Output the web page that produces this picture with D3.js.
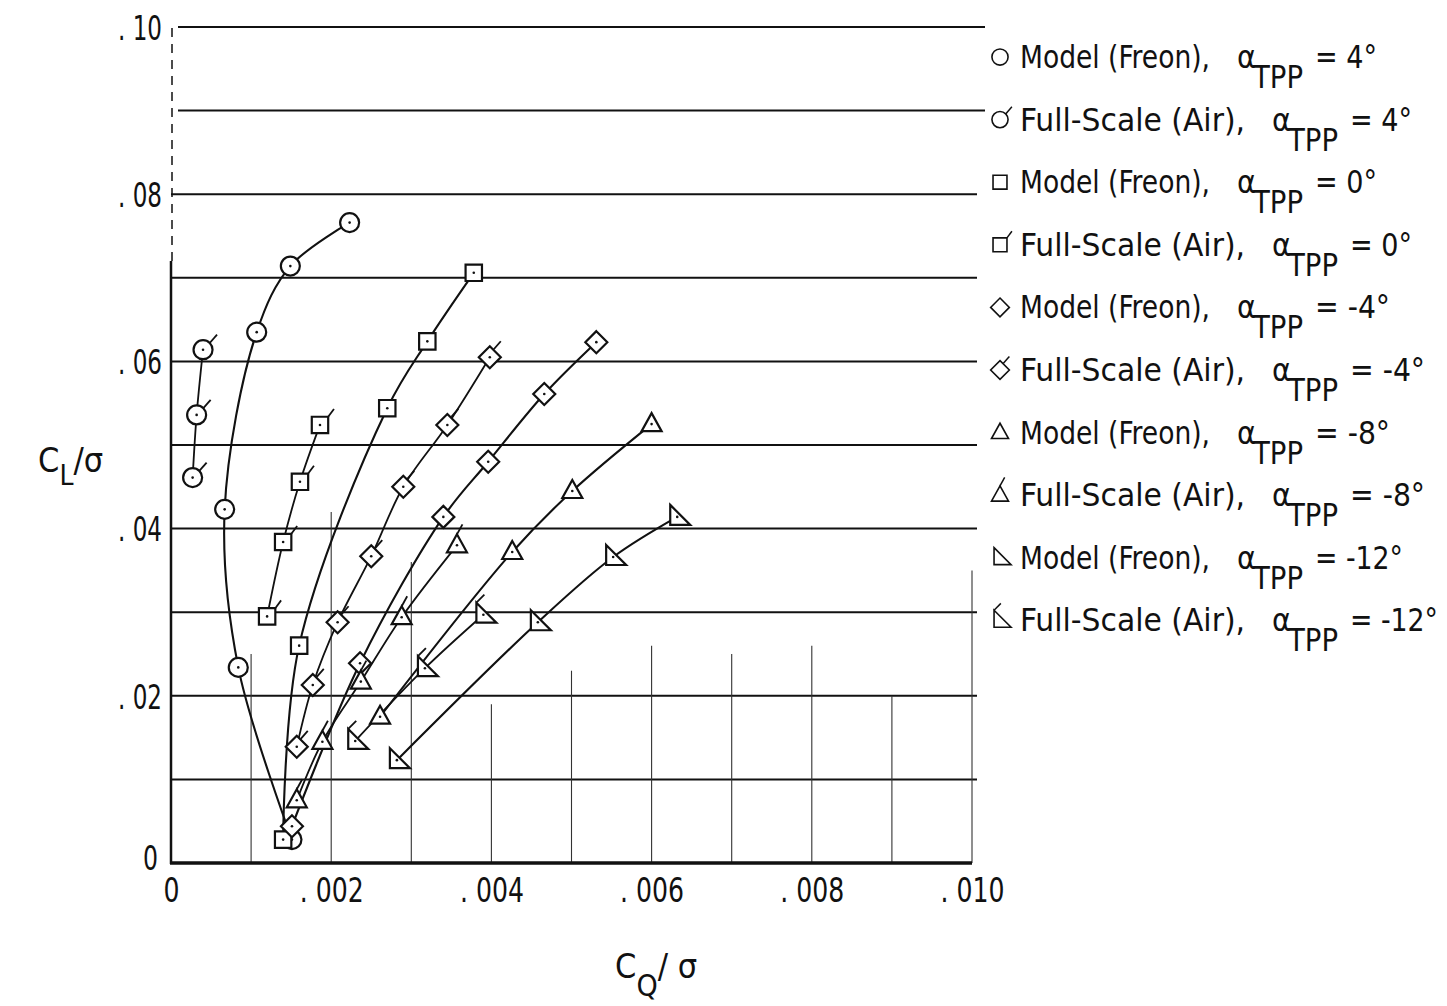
<!DOCTYPE html>
<html><head><meta charset="utf-8">
<script src="https://cdn.jsdelivr.net/npm/d3@7"></script>
<style>body{margin:0;background:#fff} svg{display:block}</style>
</head><body>
<svg id="c" width="1447" height="1006"></svg>
<script>
// ---------- DATA ----------
const xTicks = [0, 0.002, 0.004, 0.006, 0.008, 0.010];
const xTickLabels = ["0", ". 002", ". 004", ". 006", ". 008", ". 010"];
const yTicks = [0, 0.02, 0.04, 0.06, 0.08, 0.10];
const yTickLabels = ["0", ". 02", ". 04", ". 06", ". 08", ". 10"];

const seriesLabels = ["Model (Freon),", "Full-Scale (Air),", "Model (Freon),", "Full-Scale (Air),",
  "Model (Freon),", "Full-Scale (Air),", "Model (Freon),", "Full-Scale (Air),", "Model (Freon),", "Full-Scale (Air),"];
const seriesAlpha = ["4°", "4°", "0°", "0°", "-4°", "-4°", "-8°", "-8°", "-12°", "-12°"];
const seriesSymbol = ["circle", "circle", "square", "square", "diamond", "diamond", "triangle", "triangle", "rtriangle", "rtriangle"];
const seriesFlag = [false, true, false, true, false, true, false, true, false, true];

const cqModelP4 = [0.00151, 0.00084, 0.00067, 0.00107, 0.00149, 0.00223];
const clModelP4 = [0.0028, 0.0234, 0.0423, 0.0635, 0.0714, 0.0766];
const cqFullP4 = [0.00027, 0.00032, 0.00040];
const clFullP4 = [0.0461, 0.0536, 0.0614];
const cqModel0 = [0.00140, 0.00160, 0.00270, 0.00320, 0.00378];
const clModel0 = [0.0028, 0.0260, 0.0544, 0.0624, 0.0706];
const cqFull0 = [0.00120, 0.00140, 0.00161, 0.00186];
const clFull0 = [0.0295, 0.0384, 0.0456, 0.0524];
const cqModelM4 = [0.00151, 0.00236, 0.00340, 0.00396, 0.00466, 0.00531];
const clModelM4 = [0.0044, 0.0239, 0.0414, 0.0480, 0.0561, 0.0623];
const cqFullM4 = [0.00157, 0.00177, 0.00208, 0.00250, 0.00290, 0.00345, 0.00398];
const clFullM4 = [0.0139, 0.0213, 0.0288, 0.0367, 0.0450, 0.0524, 0.0605];
const cqModelM8 = [0.00261, 0.00426, 0.00501, 0.00600];
const clModelM8 = [0.0175, 0.0372, 0.0445, 0.0525];
const cqFullM8 = [0.00157, 0.00189, 0.00237, 0.00288, 0.00357];
const clFullM8 = [0.0075, 0.0145, 0.0217, 0.0294, 0.0380];
const cqModelM12 = [0.00282, 0.00458, 0.00552, 0.00632];
const clModelM12 = [0.0123, 0.0288, 0.0366, 0.0414];
const cqFullM12 = [0.00230, 0.00317, 0.00390];
const clFullM12 = [0.0146, 0.0233, 0.0297];

const seriesCQ = [cqModelP4, cqFullP4, cqModel0, cqFull0, cqModelM4, cqFullM4, cqModelM8, cqFullM8, cqModelM12, cqFullM12];
const seriesCL = [clModelP4, clFullP4, clModel0, clFull0, clModelM4, clFullM4, clModelM8, clFullM8, clModelM12, clFullM12];

// ---------- LAYOUT ----------
const FONT = "'Liberation Sans Narrow','DejaVu Sans Condensed','Liberation Sans',Arial,sans-serif";
const vGridX = d3.range(1, 11).map(d => d * 0.001);
const vGridTop = [0.025, 0.042, 0.036, 0.019, 0.023, 0.026, 0.025, 0.026, 0.020, 0.035];

const svg = d3.select("#c");
const x = d3.scaleLinear([0, 0.010], [171, 972]);
const y = d3.scaleLinear([0, 0.10], [863, 27]);
const ink = "#111";

// horizontal grid
const hGrid = d3.range(1, 11).map(d => d * 0.01);
svg.append("g").selectAll("line").data(hGrid).join("line")
  .attr("x1", d => d >= 0.09 ? 178 : x(0)).attr("x2", d => d >= 0.09 ? 985 : 977)
  .attr("y1", d => y(d)).attr("y2", d => y(d))
  .attr("stroke", ink).attr("stroke-width", 2);

// vertical grid (partial)
svg.append("g").selectAll("line").data(vGridX).join("line")
  .attr("x1", d => x(d)).attr("x2", d => x(d))
  .attr("y1", y(0)).attr("y2", (d, i) => y(vGridTop[i]))
  .attr("stroke", "#333").attr("stroke-width", 1.1);

// left axis: solid lower part, dashed upper
svg.append("line").attr("x1", x(0)).attr("x2", x(0)).attr("y1", y(0) + 1).attr("y2", y(0.072))
  .attr("stroke", ink).attr("stroke-width", 2.5);
svg.append("line").attr("x1", x(0) + 1).attr("x2", x(0) + 1).attr("y1", y(0.072)).attr("y2", y(0.10))
  .attr("stroke", ink).attr("stroke-width", 1.5).attr("stroke-dasharray", "9,7");
// bottom axis
svg.append("line").attr("x1", x(0) - 1).attr("x2", x(0.010)).attr("y1", y(0)).attr("y2", y(0))
  .attr("stroke", ink).attr("stroke-width", 3.5);

// axes tick labels via d3 axes
const xAxis = d3.axisBottom(x).tickValues(xTicks).tickSize(0).tickPadding(0)
  .tickFormat((d, i) => xTickLabels[i]);
const gx = svg.append("g").attr("transform", `translate(0,${y(0)})`).call(xAxis);
gx.select(".domain").remove();
gx.selectAll("text").attr("y", 39).attr("dy", null)
  .attr("font-family", FONT).attr("font-size", 34).attr("fill", ink)
  .attr("textLength", (d, i) => i === 0 ? 16 : 64).attr("lengthAdjust", "spacingAndGlyphs");

const yAxis = d3.axisLeft(y).tickValues(yTicks).tickSize(0).tickPadding(0)
  .tickFormat((d, i) => yTickLabels[i]);
const gy = svg.append("g").attr("transform", `translate(${x(0) - 9},0)`).call(yAxis);
gy.select(".domain").remove();
gy.selectAll("text").attr("dy", "0.36em").attr("x", (d, i) => i === 0 ? -4 : 0)
  .attr("transform", (d, i) => i === 0 ? "translate(0,-6)" : null)
  .attr("font-family", FONT).attr("font-size", 34).attr("fill", ink)
  .attr("textLength", (d, i) => i === 0 ? 15 : 44).attr("lengthAdjust", "spacingAndGlyphs");

// axis titles
const tx = svg.append("text").attr("x", 615).attr("y", 978).attr("font-family", FONT)
  .attr("font-size", 34).attr("fill", ink);
tx.append("tspan").text("C");
tx.append("tspan").attr("dy", 18).attr("font-size", 30).text("Q");
tx.append("tspan").attr("dy", -18).text("/ σ");

const ty = svg.append("text").attr("x", 38).attr("y", 472).attr("font-family", FONT)
  .attr("font-size", 34).attr("fill", ink);
ty.append("tspan").text("C");
ty.append("tspan").attr("dy", 13).attr("font-size", 28).text("L");
ty.append("tspan").attr("dy", -13).text("/σ");

// ---------- SYMBOLS ----------
function symbolPath(kind, s) {
  switch (kind) {
    case "circle": { const r = 9.5 * s; return `M${r},0A${r},${r} 0 1,1 ${-r},0A${r},${r} 0 1,1 ${r},0Z`; }
    case "square": { const h = 8.2 * s; return `M${-h},${-h}H${h}V${h}H${-h}Z`; }
    case "diamond": { const h = 11 * s; return `M0,${-h}L${h},0L0,${h}L${-h},0Z`; }
    case "triangle": return `M0,${-11 * s}L${10 * s},${7 * s}L${-10 * s},${7 * s}Z`;
    case "rtriangle": return `M${-7 * s},${-12 * s}L${13 * s},${8 * s}L${-7 * s},${8 * s}Z`;
  }
}
function flagPath(kind, s) {
  switch (kind) {
    case "circle": return `M${6.7 * s},${-6.7 * s}L${14 * s},${-15 * s}`;
    case "square": return `M${8.2 * s},${-8.2 * s}L${14 * s},${-16 * s}`;
    case "diamond": return `M${4 * s},${-8 * s}L${11 * s},${-16 * s}`;
    case "triangle": return `M0,${-11 * s}L${5.5 * s},${-21 * s}`;
    case "rtriangle": return `M${-7 * s},${-12 * s}L${1 * s},${-20 * s}`;
  }
}

// ---------- LINES ----------
const line = d3.line().x(d => x(d[0])).y(d => y(d[1])).curve(d3.curveCatmullRom.alpha(0.5));
const gLines = svg.append("g");
seriesCQ.forEach((cq, i) => {
  const pts = cq.map((v, j) => [v, seriesCL[i][j]]);
  gLines.append("path").attr("d", line(pts)).attr("fill", "none")
    .attr("stroke", ink).attr("stroke-width", seriesFlag[i] ? 1.8 : 2.1);
});

// ---------- MARKERS ----------
const gMarks = svg.append("g");
seriesCQ.forEach((cq, i) => {
  cq.forEach((v, j) => {
    const g = gMarks.append("g").attr("transform", `translate(${x(v)},${y(seriesCL[i][j])})`);
    g.append("path").attr("d", symbolPath(seriesSymbol[i], 1)).attr("fill", "#fff")
      .attr("stroke", ink).attr("stroke-width", 2.2);
    if (seriesFlag[i]) g.append("path").attr("d", flagPath(seriesSymbol[i], 1))
      .attr("stroke", ink).attr("stroke-width", 1.8).attr("fill", "none");
    g.append("circle").attr("r", 1.3).attr("fill", ink);
  });
});

// ---------- LEGEND ----------
const legBase = 68, legStep = 62.6;
const gLeg = svg.append("g");
seriesLabels.forEach((lab, i) => {
  const b = legBase + i * legStep;
  const g = gLeg.append("g");
  const sg = g.append("g").attr("transform", `translate(1000,${b - 11})`);
  sg.append("path").attr("d", symbolPath(seriesSymbol[i], 0.85)).attr("fill", "none")
    .attr("stroke", ink).attr("stroke-width", 1.6);
  if (seriesFlag[i]) sg.append("path").attr("d", flagPath(seriesSymbol[i], 0.85))
    .attr("stroke", ink).attr("stroke-width", 1.5);
  const isModel = !seriesFlag[i];
  const labLen = isModel ? 190 : 225;
  const ax = 1020 + labLen + 27;
  const common = t => t.attr("font-family", FONT).attr("font-size", 32).attr("fill", ink)
    .attr("lengthAdjust", "spacingAndGlyphs");
  common(g.append("text").attr("x", 1020).attr("y", b).attr("textLength", labLen).text(lab));
  common(g.append("text").attr("x", ax).attr("y", b).text("α"));
  common(g.append("text").attr("x", ax + 16).attr("y", b + 20).attr("textLength", 50).text("TPP"));
  common(g.append("text").attr("x", ax + 78).attr("y", b)
    .attr("textLength", 36 + 13 * seriesAlpha[i].length).text("= " + seriesAlpha[i]));
});
</script>
</body></html>
